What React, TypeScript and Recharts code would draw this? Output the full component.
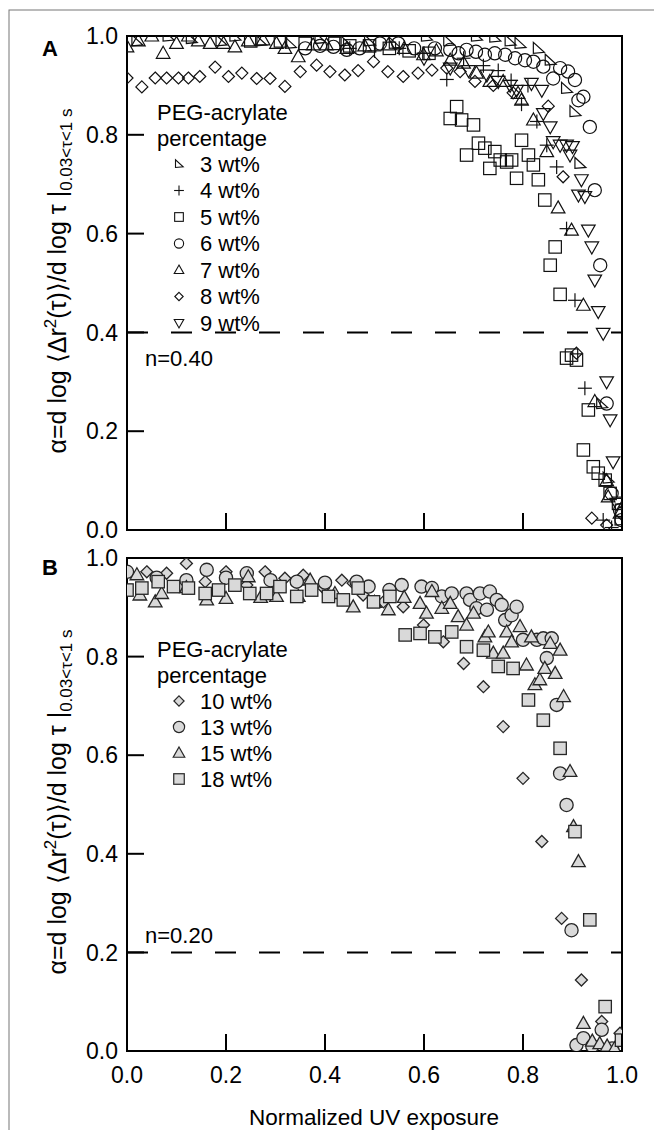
import React from 'react'
import { ScatterChart, Scatter, XAxis, YAxis, ReferenceLine, ReferenceArea } from 'recharts'

const FONT = '"Liberation Sans", Arial, Helvetica, sans-serif'

const xTicks = [0, 0.2, 0.4, 0.6, 0.8, 1.0]
const yTicks = [0, 0.2, 0.4, 0.6, 0.8, 1.0]

// panel A: 3-9 wt% PEG-acrylate  [uv exposure, alpha]
const wt3 = [[0.02,0.99],[0.083,1.0],[0.13,0.995],[0.19,0.99],[0.218,1.0],[0.27,0.99],[0.33,0.985],[0.39,0.995],[0.44,0.99],[0.49,0.99],[0.54,0.985],[0.605,1.0],[0.65,0.99],[0.706,1.0],[0.743,0.998],[0.774,0.99],[0.794,0.985],[0.831,0.975],[0.855,0.951],[0.888,0.894],[0.905,0.847],[0.915,0.742],[0.959,0.256],[0.972,0.105],[0.996,0.02]]
const wt4 = [[0.45,0.975],[0.5,0.97],[0.55,0.975],[0.6,0.965],[0.646,0.912],[0.68,0.955],[0.72,0.94],[0.75,0.93],[0.776,0.91],[0.797,0.862],[0.81,0.9],[0.828,0.827],[0.848,0.779],[0.868,0.735],[0.888,0.61],[0.905,0.465],[0.925,0.287],[0.962,0.02],[0.979,0.005]]
const wt5 = [[0.25,0.99],[0.31,0.99],[0.36,0.985],[0.42,0.985],[0.45,0.98],[0.49,0.98],[0.53,0.975],[0.57,0.97],[0.61,0.965],[0.653,0.833],[0.666,0.857],[0.676,0.83],[0.7,0.82],[0.686,0.759],[0.71,0.783],[0.723,0.773],[0.733,0.732],[0.743,0.766],[0.754,0.749],[0.767,0.745],[0.777,0.749],[0.787,0.712],[0.797,0.789],[0.811,0.759],[0.821,0.739],[0.831,0.709],[0.844,0.668],[0.855,0.536],[0.865,0.573],[0.875,0.477],[0.888,0.348],[0.898,0.354],[0.908,0.344],[0.922,0.162],[0.932,0.243],[0.942,0.128],[0.952,0.115],[0.966,0.101],[0.976,0.074],[0.993,0.054],[0.999,0.04]]
const wt6 = [[0.36,0.975],[0.39,0.98],[0.417,0.978],[0.444,0.972],[0.47,0.975],[0.511,0.985],[0.548,0.985],[0.58,0.975],[0.622,0.975],[0.653,0.972],[0.67,0.965],[0.686,0.972],[0.705,0.968],[0.723,0.962],[0.743,0.965],[0.764,0.962],[0.784,0.955],[0.804,0.951],[0.821,0.948],[0.841,0.938],[0.861,0.914],[0.875,0.935],[0.891,0.928],[0.905,0.911],[0.912,0.87],[0.922,0.877],[0.935,0.816],[0.945,0.688],[0.956,0.536],[0.969,0.256],[0.979,0.074],[0.996,0.04],[0.999,0.02]]
const wt7 = [[0.0,0.978],[0.023,0.99],[0.05,1.0],[0.073,0.965],[0.1,0.985],[0.124,1.0],[0.144,0.99],[0.168,0.985],[0.195,0.985],[0.218,0.978],[0.245,0.99],[0.275,0.992],[0.302,0.985],[0.319,0.975],[0.346,0.958],[0.376,0.982],[0.403,0.982],[0.444,0.975],[0.48,0.98],[0.528,0.982],[0.56,0.975],[0.599,0.962],[0.625,0.97],[0.653,0.951],[0.68,0.945],[0.706,0.925],[0.733,0.908],[0.76,0.908],[0.79,0.884],[0.797,0.87],[0.821,0.83],[0.848,0.766],[0.871,0.652],[0.898,0.607],[0.922,0.455],[0.945,0.26],[0.969,0.1],[0.972,0.067],[0.996,0.034]]
const wt8 = [[0.0,0.915],[0.03,0.897],[0.057,0.915],[0.08,0.915],[0.104,0.915],[0.124,0.915],[0.147,0.918],[0.178,0.937],[0.205,0.918],[0.232,0.925],[0.262,0.914],[0.289,0.914],[0.319,0.898],[0.35,0.928],[0.383,0.941],[0.41,0.928],[0.44,0.921],[0.467,0.93],[0.498,0.948],[0.527,0.928],[0.558,0.918],[0.588,0.925],[0.616,0.931],[0.646,0.935],[0.673,0.928],[0.703,0.908],[0.74,0.9],[0.78,0.885],[0.851,0.858],[0.881,0.715],[0.908,0.358],[0.939,0.024],[0.969,0.01]]
const wt9 = [[0.6,0.955],[0.653,0.935],[0.69,0.93],[0.727,0.921],[0.75,0.908],[0.774,0.9],[0.787,0.89],[0.817,0.904],[0.838,0.89],[0.841,0.843],[0.855,0.816],[0.861,0.786],[0.875,0.779],[0.888,0.779],[0.895,0.759],[0.9,0.776],[0.912,0.678],[0.918,0.709],[0.925,0.675],[0.932,0.607],[0.939,0.573],[0.945,0.506],[0.952,0.442],[0.962,0.398],[0.969,0.3],[0.976,0.223],[0.982,0.138],[0.989,0.054]]

// panel B: 10-18 wt%
const wt10 = [[0.04,0.972],[0.08,0.969],[0.12,0.989],[0.158,0.952],[0.2,0.972],[0.242,0.945],[0.279,0.972],[0.319,0.959],[0.356,0.965],[0.397,0.939],[0.434,0.955],[0.457,0.949],[0.477,0.925],[0.518,0.911],[0.558,0.901],[0.599,0.864],[0.639,0.83],[0.68,0.786],[0.72,0.739],[0.76,0.658],[0.8,0.553],[0.838,0.425],[0.878,0.269],[0.918,0.144],[0.959,0.06],[0.996,0.036]]
const wt13 = [[0.0,0.972],[0.06,0.96],[0.12,0.955],[0.161,0.976],[0.2,0.96],[0.242,0.969],[0.29,0.955],[0.343,0.952],[0.4,0.95],[0.464,0.952],[0.488,0.942],[0.53,0.935],[0.555,0.945],[0.595,0.942],[0.616,0.939],[0.636,0.922],[0.656,0.928],[0.686,0.928],[0.693,0.915],[0.706,0.898],[0.713,0.928],[0.727,0.895],[0.733,0.932],[0.747,0.915],[0.757,0.905],[0.764,0.874],[0.777,0.884],[0.787,0.901],[0.8,0.834],[0.828,0.834],[0.841,0.837],[0.848,0.797],[0.858,0.837],[0.868,0.702],[0.875,0.563],[0.888,0.499],[0.898,0.245],[0.908,0.012],[0.922,0.026],[0.94,0.01],[0.959,0.043],[0.98,0.005]]
const wt15 = [[0.02,0.966],[0.026,0.925],[0.057,0.911],[0.07,0.928],[0.12,0.94],[0.161,0.915],[0.2,0.918],[0.245,0.962],[0.27,0.92],[0.302,0.922],[0.346,0.922],[0.37,0.955],[0.42,0.928],[0.457,0.901],[0.5,0.91],[0.528,0.895],[0.56,0.92],[0.592,0.908],[0.605,0.888],[0.616,0.932],[0.636,0.898],[0.653,0.908],[0.669,0.881],[0.686,0.864],[0.7,0.888],[0.723,0.84],[0.73,0.85],[0.74,0.807],[0.76,0.807],[0.767,0.85],[0.777,0.83],[0.794,0.861],[0.807,0.783],[0.817,0.84],[0.824,0.743],[0.834,0.753],[0.844,0.776],[0.855,0.827],[0.865,0.766],[0.875,0.813],[0.882,0.719],[0.895,0.567],[0.902,0.455],[0.912,0.384],[0.922,0.056],[0.94,0.02],[0.955,0.015],[0.97,0.01],[0.985,0.005]]
const wt18 = [[0.0,0.935],[0.03,0.939],[0.063,0.952],[0.094,0.942],[0.124,0.939],[0.158,0.928],[0.185,0.935],[0.218,0.945],[0.248,0.928],[0.282,0.928],[0.309,0.942],[0.343,0.922],[0.373,0.935],[0.407,0.922],[0.437,0.915],[0.467,0.939],[0.498,0.911],[0.531,0.922],[0.562,0.844],[0.592,0.847],[0.622,0.84],[0.656,0.85],[0.686,0.82],[0.72,0.813],[0.75,0.78],[0.78,0.776],[0.811,0.712],[0.841,0.671],[0.875,0.614],[0.905,0.445],[0.935,0.266],[0.966,0.09],[0.999,0.022]]

const toPts = (a: number[][]) => a.map(([x, y]) => ({ x, y }))

type Kind = 'rtri' | 'plus' | 'square' | 'circle' | 'tri' | 'diamond' | 'dtri'

function marker(kind: Kind, cx: number, cy: number, s: number, fill: string, stroke: string, sw: number) {
  const p = (pts: number[][]) => pts.map(([a, b]) => `${cx + a * s},${cy + b * s}`).join(' ')
  switch (kind) {
    case 'rtri':
      return <polygon points={p([[-5, -6], [-5, 5], [6, 4]])} fill={fill} stroke={stroke} strokeWidth={sw} />
    case 'plus':
      return (
        <g stroke={stroke} strokeWidth={sw}>
          <line x1={cx - 7 * s} y1={cy} x2={cx + 7 * s} y2={cy} />
          <line x1={cx} y1={cy - 7 * s} x2={cx} y2={cy + 7 * s} />
        </g>
      )
    case 'square':
      return <rect x={cx - 6.2 * s} y={cy - 6.2 * s} width={12.4 * s} height={12.4 * s} fill={fill} stroke={stroke} strokeWidth={sw} />
    case 'circle':
      return <circle cx={cx} cy={cy} r={6.6 * s} fill={fill} stroke={stroke} strokeWidth={sw} />
    case 'tri':
      return <polygon points={p([[0, -7], [6.8, 5], [-6.8, 5]])} fill={fill} stroke={stroke} strokeWidth={sw} />
    case 'diamond':
      return <polygon points={p([[0, -6], [6, 0], [0, 6], [-6, 0]])} fill={fill} stroke={stroke} strokeWidth={sw} />
    case 'dtri':
      return <polygon points={p([[-6.8, -5], [6.8, -5], [0, 7]])} fill={fill} stroke={stroke} strokeWidth={sw} />
  }
}

type Series = { name: string; data: number[][]; kind: Kind }

const seriesA: Series[] = [
  { name: '3 wt%', data: wt3, kind: 'rtri' },
  { name: '4 wt%', data: wt4, kind: 'plus' },
  { name: '5 wt%', data: wt5, kind: 'square' },
  { name: '6 wt%', data: wt6, kind: 'circle' },
  { name: '7 wt%', data: wt7, kind: 'tri' },
  { name: '8 wt%', data: wt8, kind: 'diamond' },
  { name: '9 wt%', data: wt9, kind: 'dtri' },
]
const seriesB: Series[] = [
  { name: '10 wt%', data: wt10, kind: 'diamond' },
  { name: '13 wt%', data: wt13, kind: 'circle' },
  { name: '15 wt%', data: wt15, kind: 'tri' },
  { name: '18 wt%', data: wt18, kind: 'square' },
]

const YTick = (props: any) => {
  const { x, y, payload } = props
  return (
    <g>
      <line x1={x} y1={y} x2={x + 17} y2={y} stroke="#000" strokeWidth={2} />
      <text x={x - 9} y={y} dy="0.36em" textAnchor="end" fontSize={23} fontFamily={FONT} fill="#000">
        {Number(payload.value).toFixed(1)}
      </text>
    </g>
  )
}

const makeXTick = (labels: boolean) => (props: any) => {
  const { x, y, payload } = props
  return (
    <g>
      <line x1={x} y1={y} x2={x} y2={y - 17} stroke="#000" strokeWidth={2} />
      {labels && (
        <text x={x} y={y + 24} dy="0.36em" textAnchor="middle" fontSize={23} fontFamily={FONT} fill="#000">
          {Number(payload.value).toFixed(1)}
        </text>
      )}
    </g>
  )
}

function Panel({ series, height, top, bottom, nLine, gray }: { series: Series[]; height: number; top: number; bottom: number; nLine: number; gray: boolean }) {
  const fill = gray ? '#d9d9d9' : 'none'
  const stroke = gray ? '#262626' : '#111'
  const sw = gray ? 1.3 : 1.2
  return (
    <ScatterChart width={654} height={height} margin={{ top, right: 32, left: 0, bottom }}>
      <XAxis type="number" dataKey="x" domain={[0, 1]} ticks={xTicks} interval={0} allowDataOverflow
        axisLine={false} tickLine={false} tickSize={0} tickMargin={0} height={10} tick={makeXTick(gray)} />
      <YAxis type="number" dataKey="y" domain={[0, 1]} ticks={yTicks} interval={0} allowDataOverflow
        axisLine={false} tickLine={false} tickSize={0} tickMargin={0} width={127} tick={YTick} />
      <ReferenceArea x1={0} x2={1} y1={0} y2={1} fill="none" fillOpacity={0} stroke="#000" strokeWidth={2} ifOverflow="visible" />
      <ReferenceLine y={nLine} stroke="#000" strokeWidth={2} strokeDasharray="21 23" />
      {series.map((s) => (
        <Scatter key={s.name} name={s.name} data={toPts(s.data)} isAnimationActive={false}
          shape={(p: any) => marker(s.kind, p.cx, p.cy, 1, fill, stroke, sw)} />
      ))}
    </ScatterChart>
  )
}

function YLabel({ cy }: { cy: number }) {
  return (
    <text transform={`translate(66 ${cy}) rotate(-90)`} textAnchor="middle" fontSize={25} fontFamily={FONT} fill="#000">
      α=d log ⟨Δr<tspan dy={-10} fontSize={17}>2</tspan>
      <tspan dy={10}>(τ)⟩/d log τ </tspan>
      <tspan>|</tspan>
      <tspan dy={6} fontSize={17}>0.03&lt;τ&lt;1 s</tspan>
    </text>
  )
}

function Legend({ series, top, step, s, gray }: { series: Series[]; top: number; step: number; s: number; gray: boolean }) {
  const fill = gray ? '#d9d9d9' : 'none'
  const stroke = gray ? '#262626' : '#111'
  return (
    <g fontFamily={FONT} fontSize={22} fill="#000">
      <text x={157} y={top} dy="0.36em">PEG-acrylate</text>
      <text x={157} y={top + 26} dy="0.36em">percentage</text>
      {series.map((e, i) => (
        <g key={e.name}>
          {marker(e.kind, 179, top + 52 + i * step, s, fill, stroke, gray ? 1.2 : 1.1)}
          <text x={200} y={top + 52 + i * step} dy="0.36em">{e.name}</text>
        </g>
      ))}
    </g>
  )
}

export default function App() {
  return (
    <div style={{ position: 'absolute', left: 0, top: 0, width: 654, height: 1130, background: '#fff', overflow: 'hidden' }}>
      <div style={{ position: 'absolute', left: 0, top: 0 }}>
        <Panel series={seriesA} height={542} top={36} bottom={2} nLine={0.4} gray={false} />
      </div>
      <div style={{ position: 'absolute', left: 0, top: 542 }}>
        <Panel series={seriesB} height={588} top={16} bottom={69} nLine={0.2} gray={true} />
      </div>
      <svg width={654} height={1130} style={{ position: 'absolute', left: 0, top: 0, pointerEvents: 'none' }}>
        <rect x={9} y={10} width={700} height={1300} fill="none" stroke="#777" strokeWidth={1} />
        <text x={50} y={48} dy="0.36em" textAnchor="middle" fontSize={22} fontWeight="bold" fontFamily={FONT}>A</text>
        <text x={50} y={567} dy="0.36em" textAnchor="middle" fontSize={22} fontWeight="bold" fontFamily={FONT}>B</text>
        <YLabel cy={281} />
        <YLabel cy={802} />
        <text x={145} y={358} dy="0.36em" fontSize={22} fontFamily={FONT}>n=0.40</text>
        <text x={145} y={935} dy="0.36em" fontSize={22} fontFamily={FONT}>n=0.20</text>
        <Legend series={seriesA} top={112} step={26.5} s={0.7} gray={false} />
        <Legend series={seriesB} top={649} step={26} s={0.85} gray={true} />
        <text x={374} y={1117} dy="0.36em" textAnchor="middle" fontSize={22.5} fontFamily={FONT}>Normalized UV exposure</text>
      </svg>
    </div>
  )
}
